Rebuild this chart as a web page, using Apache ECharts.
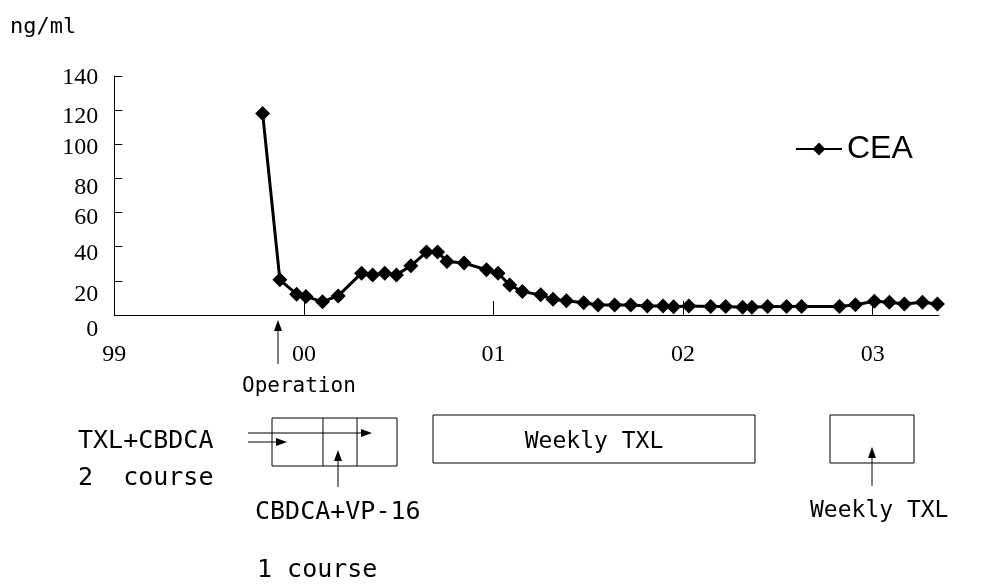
<!DOCTYPE html>
<html>
<head>
<meta charset="utf-8">
<script src="https://cdn.jsdelivr.net/npm/echarts@6/dist/echarts.min.js"></script>
<style>html,body{margin:0;padding:0;background:#fff}#c{width:1004px;height:585px}</style>
</head>
<body>
<div id="c"></div>
<script>
// months since Jan 1999
const months = [9.39,10.48,11.54,12.13,13.18,14.17,15.65,16.35,17.12,17.86,18.77,19.76,20.46,21.06,22.14,23.56,24.29,25.03,25.83,26.99,27.77,28.62,29.71,30.62,31.67,32.69,33.74,34.73,35.40,36.37,37.75,38.70,39.77,40.36,41.35,42.55,43.50,45.90,46.91,48.11,49.06,50.01,51.15,52.10];
const cea = [118,20.6,12.2,10.8,7.8,11.2,24.5,23.5,24.5,23.5,28.8,36.9,36.9,31.4,30.4,26.5,24.5,17.6,13.7,11.8,9.2,8.4,7.2,5.9,5.9,5.9,5.3,5.3,4.9,5.3,5,5,4.5,4.5,5,5,5,5,6,8,7.5,6.5,7.5,6.5];
const yearLabels = ['99','00','01','02','03'];
const yearTicks = [0,12,24,36,48];
const yTicks = [0,20,40,60,80,100,120,140];

const chart = echarts.init(document.getElementById('c'));
const mono = '"DejaVu Sans Mono", monospace';
const serif = '"Liberation Serif", serif';
const yOff = {0:15,20:14,40:7,60:5,80:9,100:3,120:7,140:2};
const rich = {};
yTicks.forEach(v => { rich['o'+v] = {padding:[2*yOff[v],0,0,0], fontFamily:serif, fontSize:24, color:'#000'}; });

function arrowRight(x1,x2,y){
  return [
    {type:'line', shape:{x1:x1,y1:y,x2:x2-8,y2:y}, style:{stroke:'#000',lineWidth:1}},
    {type:'polygon', shape:{points:[[x2,y],[x2-11,y-4],[x2-11,y+4]]}, style:{fill:'#000'}}
  ];
}
function arrowUp(x,y1,y2){
  return [
    {type:'line', shape:{x1:x,y1:y1,x2:x,y2:y2+8}, style:{stroke:'#000',lineWidth:1}},
    {type:'polygon', shape:{points:[[x,y2],[x-4,y2+11],[x+4,y2+11]]}, style:{fill:'#000'}}
  ];
}
function rect(x,y,w,h){ return {type:'rect', shape:{x:x,y:y,width:w,height:h}, style:{fill:'none',stroke:'#000',lineWidth:1}}; }
function txt(s,x,y,size,align){ return {type:'text', x:x, y:y, style:{text:s, font:size+'px '+mono, fill:'#000', textAlign:align||'left', textVerticalAlign:'middle'}}; }

const graphics = [].concat(
  [txt('ng/ml',10,27,22)],
  arrowUp(278,364,320),
  [txt('Operation',242,387,21)],
  [rect(272,418,125,48),
   {type:'line', shape:{x1:323,y1:418,x2:323,y2:466}, style:{stroke:'#000',lineWidth:1}},
   {type:'line', shape:{x1:357,y1:418,x2:357,y2:466}, style:{stroke:'#000',lineWidth:1}}],
  arrowRight(248,372,433),
  arrowRight(248,287,442),
  arrowUp(338,487,450),
  [txt('TXL+CBDCA',78,441,25), txt('2  course',78,478,25),
   txt('CBDCA+VP-16',255,512,25), txt('1 course',257,570,25)],
  [rect(433,415,322,48), txt('Weekly TXL',594,442,23,'center')],
  [rect(830,415,84,48)],
  arrowUp(872,486,447),
  [txt('Weekly TXL',810,511,23)]
);

chart.setOption({
  animation:false,
  backgroundColor:'#fff',
  grid:{left:114.3, right:65, top:76, bottom:270, containLabel:false},
  legend:{
    left:790, top:128, itemWidth:46, itemHeight:16, itemGap:10,
    textStyle:{fontFamily:'"Liberation Sans", Arial, sans-serif', fontSize:32, color:'#000'},
    data:['CEA']
  },
  xAxis:{
    type:'value', min:0, max:52.2,
    axisLine:{lineStyle:{color:'#000',width:1}},
    axisTick:{show:true, inside:true, length:14, customValues:[12,24,36,48], lineStyle:{color:'#000'}},
    axisLabel:{customValues:yearTicks, margin:28, fontFamily:serif, fontSize:24, color:'#000',
      formatter:v => yearLabels[yearTicks.indexOf(Math.round(v))] || ''},
    splitLine:{show:false}
  },
  yAxis:{
    type:'value', min:0, max:140, interval:20,
    axisLine:{show:true, lineStyle:{color:'#000',width:1}},
    axisTick:{show:true, inside:true, length:8, lineStyle:{color:'#000'}},
    axisLabel:{margin:16, formatter:v => '{o'+v+'|'+v+'}', rich:rich},
    splitLine:{show:false}
  },
  series:[{
    name:'CEA', type:'line',
    data:months.map((m,i)=>[m,cea[i]]),
    symbol:'diamond', symbolSize:15,
    itemStyle:{color:'#000'},
    lineStyle:{color:'#000',width:3}
  }],
  graphic:graphics
});
</script>
</body>
</html>
